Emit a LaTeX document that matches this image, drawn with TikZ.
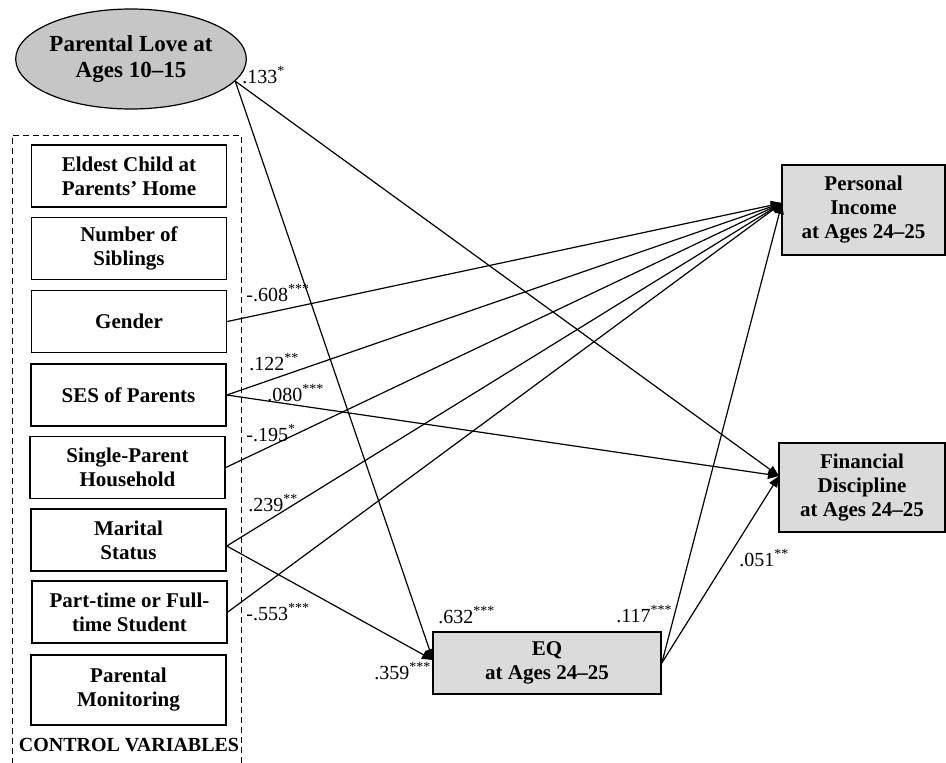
\documentclass[tikz,border=0pt]{standalone}
\usepackage{fontspec}
\setmainfont{Liberation Serif}
\usepackage{tikz}
\usetikzlibrary{shapes.geometric,arrows.meta}

\begin{document}
\begin{tikzpicture}[x=0.5pt,y=-0.5pt,
	var/.style={draw,thick,align=center,inner sep=1pt,minimum width=97.5pt,minimum height=31pt,font=\fontsize{10.5}{12}\selectfont\bfseries},
	outcome/.style={var,fill=gray!28},
	effect/.style={-{Triangle[length=5.5pt,width=4.5pt]},semithick},
	coef/.style={anchor=west,inner sep=0pt,font=\fontsize{10}{12}\selectfont}]
	\useasboundingbox (0,0) rectangle (946,762);
	\node[ellipse,draw,semithick,fill=gray!45,minimum width=108pt,minimum height=50pt,inner sep=0pt,align=center,font=\fontsize{11.5}{13.3}\selectfont\bfseries] (love) at (131,59) {Parental Love at\\Ages 10–15};
	\draw[densely dashed,thin] (12,764) -- (12,135) -- (241,135) -- (241,764);
	\node[var] (eldest) at (129,176) {Eldest Child at\\Parents’ Home};
	\node[var] (sibs) at (129,248.5) {Number of\\Siblings};
	\node[var] (gender) at (129,321.5) {Gender};
	\node[var] (ses) at (128.5,395) {SES of Parents};
	\node[var] (single) at (127.5,467.5) {Single-Parent\\Household};
	\node[var] (marital) at (128.5,540) {Marital\\Status};
	\node[var] (student) at (129.5,612) {Part-time or Full-\\time Student};
	\node[var,minimum height=35pt] (monitor) at (128.5,690) {Parental\\Monitoring};
	\node[font=\fontsize{10}{12}\selectfont\bfseries,inner sep=0pt] (ctrl) at (129,745) {CONTROL VARIABLES};
	\node[outcome,minimum width=81.5pt,minimum height=45pt] (income) at (863.5,210) {Personal\\Income\\at Ages 24–25};
	\node[outcome,minimum width=83pt,minimum height=44.5pt] (discip) at (862,487.5) {Financial\\Discipline\\at Ages 24–25};
	\node[outcome,minimum width=114pt,minimum height=31pt] (eq) at (547,663) {EQ\\at Ages 24–25};
	\coordinate (incomeIn) at (782,203);
	\coordinate (discipIn) at (779,476);
	\coordinate (eqIn) at (433,660);
	\draw[effect] (love.-12) -- (eqIn);
	\draw[effect] (love.-12) -- (discipIn);
	\draw[effect] (gender.east) -- (incomeIn);
	\draw[effect] (ses.east) -- (incomeIn);
	\draw[effect] (ses.east) -- (discipIn);
	\draw[effect] (single.east) -- (incomeIn);
	\draw[effect] ([yshift=-3pt]marital.east) -- (incomeIn);
	\draw[effect] ([yshift=-3pt]marital.east) -- (eqIn);
	\draw[effect] (student.east) -- (incomeIn);
	\draw[effect] (eq.east) -- (incomeIn);
	\draw[effect] (eq.east) -- (discipIn);
	\node[coef] (c133) at (242,75) {.133\textsuperscript{*}};
	\node[coef] (c608) at (246,293) {-.608\textsuperscript{***}};
	\node[coef] (c122) at (249,362) {.122\textsuperscript{**}};
	\node[coef] (c080) at (267,393) {.080\textsuperscript{***}};
	\node[coef] (c195) at (246,433) {-.195\textsuperscript{*}};
	\node[coef] (c239) at (248,503) {.239\textsuperscript{**}};
	\node[coef] (c553) at (246,612) {-.553\textsuperscript{***}};
	\node[coef] (c359) at (374,671) {.359\textsuperscript{***}};
	\node[coef] (c632) at (438,615) {.632\textsuperscript{***}};
	\node[coef] (c117) at (616,614) {.117\textsuperscript{***}};
	\node[coef] (c051) at (739,558) {.051\textsuperscript{**}};
\end{tikzpicture}
\end{document}
